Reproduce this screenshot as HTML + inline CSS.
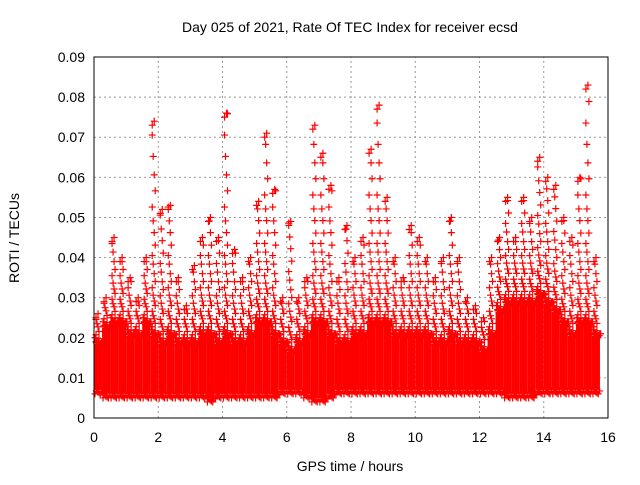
<!DOCTYPE html>
<html><head><meta charset="utf-8"><style>
body{margin:0;background:#fff;}
svg text{font-family:"Liberation Sans",sans-serif;font-size:14px;fill:#000;}
</style></head><body>
<svg id="chart" width="640" height="480" xmlns="http://www.w3.org/2000/svg">
<text x="350" y="32" text-anchor="middle">Day 025 of 2021, Rate Of TEC Index for receiver ecsd</text>
<text x="350" y="471" text-anchor="middle">GPS time / hours</text>
<text x="19" y="238" text-anchor="middle" transform="rotate(-90 19 238)">ROTI / TECUs</text>
<g id="grid"></g><g id="marks"></g><g id="axes"></g>
</svg>
<script>
const hours=[0,0.25,0.5,0.75,1,1.25,1.5,1.75,2,2.25,2.5,2.75,3,3.25,3.5,3.75,4,4.25,4.5,4.75,5,5.25,5.5,5.75,6,6.25,6.5,6.75,7,7.25,7.5,7.75,8,8.25,8.5,8.75,9,9.25,9.5,9.75,10,10.25,10.5,10.75,11,11.25,11.5,11.75,12,12.25,12.5,12.75,13,13.25,13.5,13.75,14,14.25,14.5,14.75,15,15.25,15.5];
const peak=[0.026,0.03,0.045,0.04,0.035,0.03,0.04,0.074,0.052,0.053,0.035,0.028,0.038,0.045,0.05,0.045,0.076,0.042,0.035,0.04,0.054,0.071,0.057,0.03,0.049,0.03,0.035,0.073,0.066,0.058,0.035,0.048,0.04,0.045,0.067,0.078,0.055,0.04,0.035,0.048,0.045,0.04,0.035,0.04,0.05,0.04,0.03,0.028,0.025,0.04,0.045,0.055,0.045,0.055,0.05,0.065,0.06,0.058,0.05,0.045,0.06,0.083,0.04];
const bandTop=[0.02,0.024,0.025,0.025,0.022,0.022,0.025,0.022,0.02,0.022,0.02,0.02,0.02,0.022,0.022,0.02,0.022,0.02,0.02,0.022,0.025,0.025,0.022,0.02,0.018,0.02,0.022,0.025,0.025,0.022,0.02,0.02,0.022,0.022,0.025,0.025,0.025,0.022,0.022,0.022,0.022,0.022,0.02,0.02,0.022,0.02,0.02,0.02,0.018,0.022,0.028,0.03,0.03,0.03,0.03,0.032,0.03,0.028,0.025,0.022,0.025,0.025,0.022];
const bandBottom=[0.006,0.005,0.005,0.005,0.005,0.005,0.005,0.005,0.005,0.005,0.005,0.005,0.005,0.005,0.004,0.005,0.005,0.005,0.005,0.005,0.005,0.005,0.005,0.006,0.006,0.006,0.005,0.004,0.004,0.005,0.006,0.006,0.006,0.006,0.006,0.006,0.006,0.006,0.006,0.006,0.006,0.006,0.006,0.006,0.006,0.006,0.006,0.006,0.006,0.006,0.006,0.005,0.005,0.005,0.005,0.006,0.006,0.006,0.006,0.006,0.006,0.006,0.006];
const xTicks=[0,2,4,6,8,10,12,14,16];
const yTicks=[0,0.01,0.02,0.03,0.04,0.05,0.06,0.07,0.08,0.09];
const X0=94,X1=608,Y0=418,Y1=57;
const xs=v=>X0+(v/16)*(X1-X0), ys=v=>Y0-(v/0.09)*(Y0-Y1);
const NS="http://www.w3.org/2000/svg";
function mk(tag,attrs,parent){const e=document.createElementNS(NS,tag);for(const k in attrs)e.setAttribute(k,attrs[k]);parent.appendChild(e);return e;}
const grid=document.getElementById('grid'),marks=document.getElementById('marks'),axes=document.getElementById('axes');
xTicks.forEach(t=>{const x=xs(t);
 if(t>0&&t<16){const g=mk('line',{x1:x,x2:x,y1:Y0,y2:Y1,stroke:'#999','stroke-dasharray':'2,3','stroke-width':1},grid);
 }
 const l=mk('text',{x:x,y:Y0+24,'text-anchor':'middle'},axes);l.textContent=t;
 });
yTicks.forEach(t=>{const y=ys(t);
 if(t>0&&t<0.09){const g=mk('line',{x1:X0,x2:X1,y1:y,y2:y,stroke:'#999','stroke-dasharray':'2,3','stroke-width':1},grid);
 }
 const l=mk('text',{x:X0-9,y:y+5,'text-anchor':'end'},axes);l.textContent=t===0?'0':t.toFixed(2);
 });
const frame=mk('rect',{x:X0,y:Y1,width:X1-X0,height:Y0-Y1,fill:'none',stroke:'#000','stroke-width':1},axes);

const binW=xs(0.25)-xs(0);
function plus(x,y){return `M${x-3.5},${y}h7M${x},${y-3.5}v7`;}
hours.forEach((h,i)=>{
 const xa=xs(h),yt=ys(bandTop[i]),yb=ys(bandBottom[i]),yp=ys(peak[i]);
 const core=mk('rect',{x:xa,y:yt+6,width:binW,height:Math.max(0,yb-yt-10),fill:'#f00'},marks);
 
 let d='';
 for(let k=0;k<6;k++){const x=xa+1+k*binW/6;d+=plus(x,yt+((k*5)%7))+plus(x+1,yt+4+((k*3)%5))+plus(x,yb-((k*3)%4));}
 let j=0;
 for(let y=yt-3;y>yp;){const x=xa+2+((j*11)%Math.max(1,Math.floor(binW-4)));d+=plus(x,y);j++;y-=2+(yt-y)/10+(j%3);}
 d+=plus(xa+binW/2,yp);d+=plus(xa+binW/2-2,yp+4);
 const p=mk('path',{d:d,stroke:'#f00','stroke-width':1.2,fill:'none'},marks);
 
});
</script>
</body></html>
